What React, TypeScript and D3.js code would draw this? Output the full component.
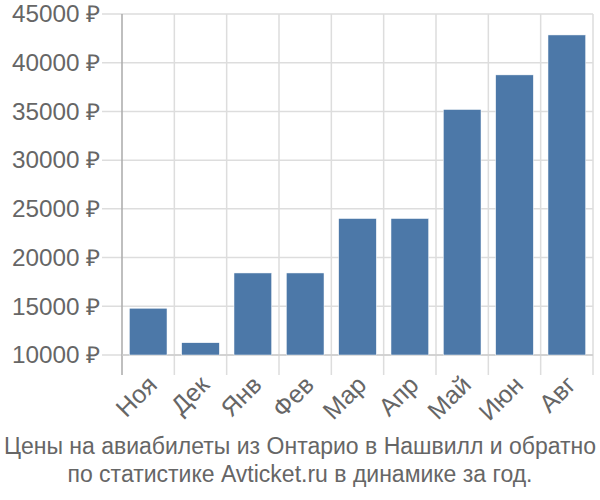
import React from "react";
import * as d3 from "d3";

const categories = ["Ноя", "Дек", "Янв", "Фев", "Мар", "Апр", "Май", "Июн", "Авг"];
const values = [14800, 11260, 18420, 18420, 24010, 24010, 35200, 38750, 42850];
const yTicks = [10000, 15000, 20000, 25000, 30000, 35000, 40000, 45000];
const titleLines = [
  "Цены на авиабилеты из Онтарио в Нашвилл и обратно",
  "по статистике Avticket.ru в динамике за год.",
];

const W = 600;
const H = 500;
const left = 122;
const right = 593;
const top = 14;
const bottom = 355;

export default function App() {
  const x = d3.scaleBand<string>().domain(categories).range([left, right]).paddingInner(0.28).paddingOuter(0.14);
  const xGrid = d3.scaleBand<string>().domain(categories).range([left, right]);
  const y = d3.scaleLinear().domain([10000, 45000]).range([bottom, top]);
  const font = "'Liberation Sans', Arial, sans-serif";
  return (
    <svg width={W} height={H} style={{ position: "absolute", left: 0, top: 0 }} fontFamily={font}>
      <rect width={W} height={H} fill="#fff" />
      {yTicks.map((t) => (
        <g key={t}>
          <line x1={102} x2={right} y1={y(t)} y2={y(t)} stroke="#ddd" strokeWidth={1.5} />
          <text x={100} y={y(t)} dy="0.36em" textAnchor="end" fontSize={23} textLength={88} lengthAdjust="spacingAndGlyphs" fill="#666">
            {t} ₽
          </text>
        </g>
      ))}
      {categories.map((c) => (
        <line key={c} x1={(xGrid(c) as number) + xGrid.bandwidth()} x2={(xGrid(c) as number) + xGrid.bandwidth()} y1={top} y2={375} stroke="#ddd" strokeWidth={1.5} />
      ))}
      <line x1={left} x2={left} y1={top} y2={375} stroke="#aaa" strokeWidth={1.5} />
      <line x1={left} x2={right} y1={bottom} y2={bottom} stroke="#ccc" strokeWidth={1.5} />
      {categories.map((c, i) => (
        <rect key={c} x={x(c)} y={y(values[i])} width={x.bandwidth()} height={bottom - y(values[i])} fill="#4c78a8" stroke="#fff" strokeWidth={0.5} />
      ))}
      {categories.map((c) => {
        const cx = (xGrid(c) as number) + xGrid.bandwidth() / 2 + 4;
        const cy = 380;
        return (
          <text key={c} x={cx} y={cy} textAnchor="end" fontSize={25} fill="#666" transform={`rotate(-45 ${cx} ${cy})`} dy="0.36em">
            {c}
          </text>
        );
      })}
      {titleLines.map((l, i) => (
        <text key={i} x={300} y={454 + i * 28} textAnchor="middle" fontSize={23} fill="#666">
          {l}
        </text>
      ))}
    </svg>
  );
}
